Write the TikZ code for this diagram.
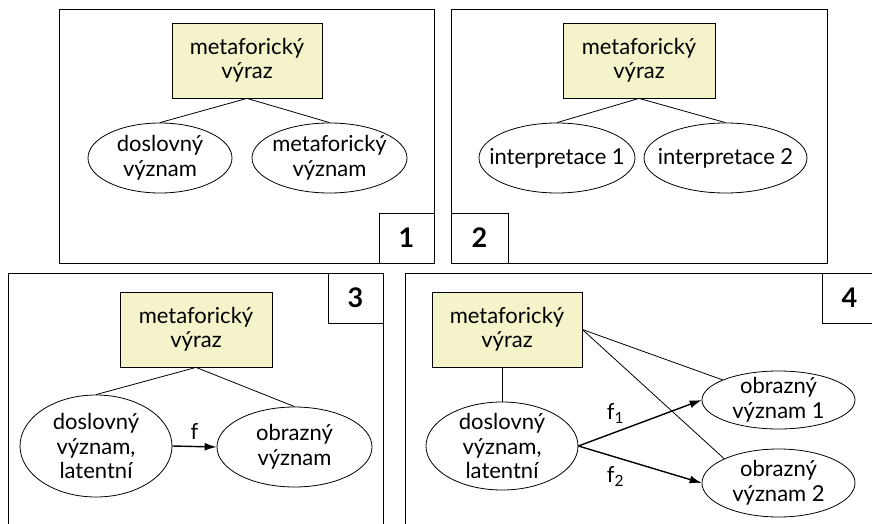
\documentclass[tikz,border=0pt]{standalone}
\usepackage{fontspec}
\setmainfont{Lato}
\usepackage{xcolor}
\usetikzlibrary{shapes, arrows.meta, positioning, calc}
\definecolor{exprfill}{RGB}{245,243,201}

\begin{document}
\begin{tikzpicture}[x=1pt, y=-1pt, line width=0.8pt,
        font=\fontsize{22}{24.5}\selectfont,
        expr/.style={draw, fill=exprfill, minimum height=75pt, align=center, inner sep=0pt},
        sense/.style={draw, ellipse, fill=white, align=center, inner xsep=-15pt, inner ysep=-6pt},
        numbox/.style={draw, fill=white, minimum height=50pt, font=\bfseries\fontsize{27}{27}\selectfont},
        func/.style={-{Latex[length=12pt, width=8pt]}, line width=1.4pt}]
        \useasboundingbox (0,0) rectangle (872,524);
        \clip (0,0) rectangle (872,524);

        % Panel 1
        \draw (59,9) rectangle (434,263);
        \node[numbox, minimum width=55pt] (n1) at (406.5,238) {1};
        \node[expr, minimum width=150pt] (r1) at (247,60.5) {metaforický\\výraz};
        \node[sense, minimum width=144pt, minimum height=70pt] (d1) at (160,158) {doslovný\\význam};
        \node[sense, minimum width=155pt, minimum height=70pt] (m1) at (329.5,158) {metaforický\\význam};
        \draw (r1.south) -- (d1.north);
        \draw (r1.south) -- (m1.north);

        % Panel 2
        \draw (451,9) rectangle (827,263);
        \node[numbox, minimum width=57pt] (n2) at (479.5,238) {2};
        \node[expr, minimum width=152pt] (r2) at (639,60.5) {metaforický\\výraz};
        \node[sense, minimum width=156pt, minimum height=70pt] (i1) at (557,158) {interpretace 1};
        \node[sense, minimum width=163pt, minimum height=70pt] (i2) at (725.5,158) {interpretace 2};
        \draw (r2.south) -- (i1.north);
        \draw (r2.south) -- (i2.north);

        % Panel 3
        \draw (8,273) rectangle (383,560);
        \node[numbox, minimum width=55pt] (n3) at (355.5,298) {3};
        \node[expr, minimum width=152pt] (r3) at (196,329.5) {metaforický\\výraz};
        \node[sense, minimum width=152pt, minimum height=102pt] (d3) at (96,446) {doslovný\\význam,\\latentní};
        \node[sense, minimum width=155pt, minimum height=80pt] (o3) at (294.5,447) {obrazný\\význam};
        \draw (r3.south) -- (d3.north);
        \draw (r3.south) -- (o3.north);
        \draw[func] (d3.east) -- node[above=3pt] {f} (o3.west);

        % Panel 4
        \draw (405,273) rectangle (900,560);
        \node[numbox, minimum width=55pt] (n4) at (849.5,298) {4};
        \node[expr, minimum width=150pt] (r4) at (507,329.5) {metaforický\\výraz};
        \node[sense, minimum width=152pt, minimum height=88pt] (d4) at (502,446) {doslovný\\význam,\\latentní};
        \node[sense, minimum width=153pt, minimum height=58pt] (o4a) at (778.5,400) {obrazný\\význam 1};
        \node[sense, minimum width=153pt, minimum height=68pt] (o4b) at (778.5,483) {obrazný\\význam 2};
        \draw (d4.north |- r4.south) -- (d4.north);
        \draw (r4.east) -- (o4a);
        \draw (r4.east) -- (o4b.north west);
        \draw[func] (d4.east) -- node[pos=0.3, above=5pt] {f\textsubscript{1}} (o4a.west);
        \draw[func] (d4.east) -- node[pos=0.3, below=5pt] {f\textsubscript{2}} (o4b.west);
\end{tikzpicture}
\end{document}
